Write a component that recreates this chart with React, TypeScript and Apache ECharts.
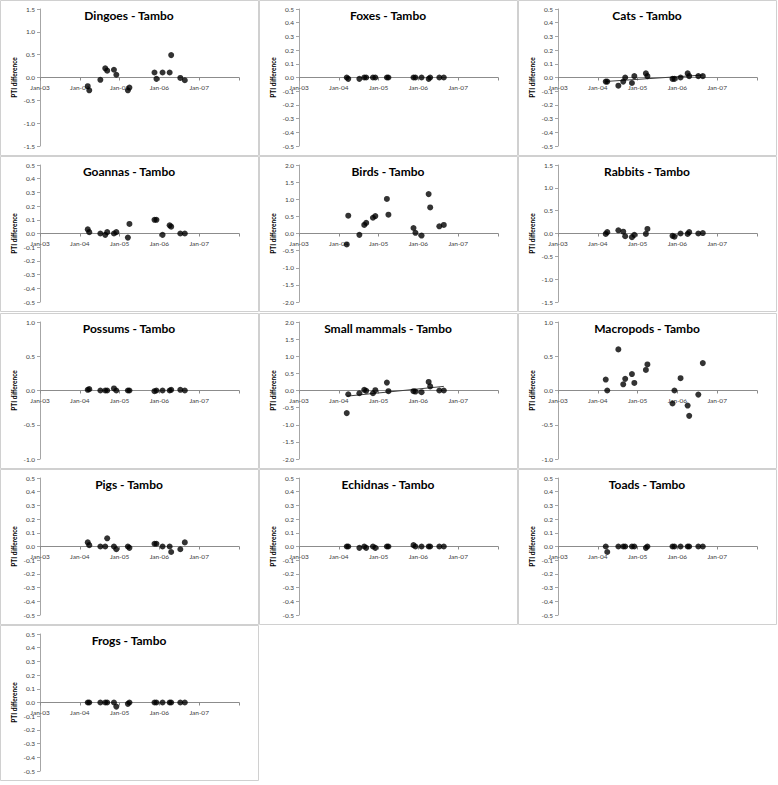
import { useEffect, useRef } from "react";
import * as echarts from "echarts";

// survey dates shared by every panel
const SURVEY_DATES = [
  "2004-03-14", "2004-03-28", "2004-07-08", "2004-08-22", "2004-09-09", "2004-11-10",
  "2004-12-02", "2005-03-18", "2005-04-01", "2005-11-17", "2005-12-05", "2006-01-30",
  "2006-04-05", "2006-04-19", "2006-07-12", "2006-08-22",
];

const DINGOES = [-0.19, -0.28, -0.05, 0.2, 0.15, 0.17, 0.06, -0.28, -0.22, 0.11, -0.03, 0.11, 0.11, 0.49, -0.01, -0.06];
const FOXES = [0.0, -0.01, -0.01, 0.0, 0.0, 0.0, 0.0, 0.0, 0.0, 0.0, 0.0, 0.0, -0.01, 0.0, 0.0, 0.0];
const CATS = [-0.03, -0.03, -0.06, -0.03, 0.0, -0.04, 0.01, 0.03, 0.01, -0.01, -0.01, 0.0, 0.03, 0.01, 0.01, 0.01];
const GOANNAS = [0.03, 0.01, 0.0, -0.01, 0.01, 0.0, 0.01, -0.03, 0.07, 0.1, 0.1, -0.01, 0.06, 0.05, 0.0, 0.0];
const BIRDS = [-0.32, 0.52, -0.04, 0.25, 0.31, 0.46, 0.51, 1.01, 0.55, 0.16, 0.02, -0.06, 1.15, 0.76, 0.21, 0.25];
const RABBITS = [-0.01, 0.03, 0.07, 0.04, -0.06, -0.08, -0.03, -0.01, 0.1, -0.05, -0.07, 0.0, -0.01, 0.03, 0.0, 0.01];
const POSSUMS = [0.01, 0.02, 0.0, 0.0, 0.0, 0.03, 0.0, 0.0, 0.0, -0.01, 0.0, 0.0, 0.0, 0.01, 0.01, 0.0];
const SMALL_MAMMALS = [-0.66, -0.11, -0.08, 0.02, -0.01, -0.08, 0.01, 0.23, -0.02, -0.02, -0.03, -0.05, 0.25, 0.12, 0.0, 0.0];
const MACROPODS = [0.16, 0.0, 0.6, 0.09, 0.17, 0.24, 0.11, 0.3, 0.38, -0.19, 0.0, 0.18, -0.22, -0.37, -0.06, 0.4];
const PIGS = [0.03, 0.01, 0.0, 0.0, 0.06, 0.0, -0.02, 0.0, -0.01, 0.02, 0.02, 0.0, 0.0, -0.04, -0.02, 0.03];
const ECHIDNAS = [0.0, 0.0, -0.01, 0.0, -0.01, 0.0, -0.01, 0.0, 0.0, 0.01, 0.0, 0.0, 0.0, 0.0, 0.0, 0.0];
const TOADS = [0.0, -0.04, 0.0, 0.0, 0.0, 0.0, 0.0, -0.01, 0.0, 0.0, 0.0, 0.0, 0.0, 0.0, 0.0, 0.0];
const FROGS = [0.0, 0.0, 0.0, 0.0, 0.0, 0.0, -0.03, -0.01, 0.0, 0.0, 0.0, 0.0, 0.0, 0.0, 0.0, 0.0];

const SPECIES = ["Dingoes", "Foxes", "Cats", "Goannas", "Birds", "Rabbits", "Possums", "Small mammals", "Macropods", "Pigs", "Echidnas", "Toads", "Frogs"];
const VALUES = [DINGOES, FOXES, CATS, GOANNAS, BIRDS, RABBITS, POSSUMS, SMALL_MAMMALS, MACROPODS, PIGS, ECHIDNAS, TOADS, FROGS];
const Y_LIMITS = [1.5, 0.5, 0.5, 0.5, 2.0, 1.5, 1.0, 2.0, 1.0, 0.5, 0.5, 0.5, 0.5];
const Y_STEPS = [0.5, 0.1, 0.1, 0.1, 0.5, 0.5, 0.5, 0.5, 0.5, 0.1, 0.1, 0.1, 0.1];
const WITH_TREND = ["Cats", "Small mammals"];
const X_YEARS = [2003, 2004, 2005, 2006, 2007];

const COL_X = [0, 259, 518];
const ROW_Y = [0, 156, 313, 469, 625];
const PANEL_W = 258;
const PANEL_H = 155;
const PLOT_H = 137;
const FONT = "Lato, 'Open Sans', sans-serif";

function toYear(d: string) {
  const [y, m, day] = d.split("-").map(Number);
  const start = Date.UTC(y, 0, 1);
  const end = Date.UTC(y + 1, 0, 1);
  return y + (Date.UTC(y, m - 1, day) - start) / (end - start);
}

function trend(xs: number[], ys: number[]) {
  const n = xs.length;
  const mx = xs.reduce((a, b) => a + b, 0) / n;
  const my = ys.reduce((a, b) => a + b, 0) / n;
  let sxy = 0;
  let sxx = 0;
  xs.forEach((x, i) => {
    sxy += (x - mx) * (ys[i] - my);
    sxx += (x - mx) * (x - mx);
  });
  const slope = sxy / sxx;
  const x0 = Math.min(...xs);
  const x1 = Math.max(...xs);
  return [
    [x0, my + slope * (x0 - mx)],
    [x1, my + slope * (x1 - mx)],
  ];
}

export default function App() {
  const chartRef = useRef<HTMLDivElement>(null);

  useEffect(() => {
    if (!chartRef.current) return;
    const chart = echarts.init(chartRef.current, null, { renderer: "svg" });
    const xs = SURVEY_DATES.map(toYear);

    const grids: any[] = [];
    const xAxes: any[] = [];
    const yAxes: any[] = [];
    const series: any[] = [];
    const titles: any[] = [];
    const borders: any[] = [];

    SPECIES.forEach((name, i) => {
      const px = COL_X[i % 3];
      const py = ROW_Y[Math.floor(i / 3)];
      borders.push({
        type: "rect",
        shape: { x: px + 0.5, y: py + 0.5, width: PANEL_W, height: PANEL_H },
        style: { fill: "#fff", stroke: "#d0d0d0", lineWidth: 1 },
        z: -10,
      });
      titles.push({
        text: `${name} - Tambo`,
        left: px + 129,
        top: py + 9,
        padding: 0,
        textAlign: "center",
        textStyle: { fontFamily: FONT, fontSize: 12, fontWeight: "bold", color: "#000" },
      });
      grids.push({ left: px + 40, top: py + 9, width: 199, height: PLOT_H });
      // axis sits at y = 0, which is the middle of every symmetric range
      xAxes.push({
        type: "value",
        gridIndex: i,
        min: 2003,
        max: 2008,
        interval: 1,
        position: "bottom",
        offset: -PLOT_H / 2,
        axisLine: { onZero: false, lineStyle: { color: "#8c8c8c", width: 1 } },
        axisTick: { show: true, length: 3, lineStyle: { color: "#8c8c8c" } },
        axisLabel: {
          fontFamily: FONT,
          fontSize: 6.5,
          color: "#404040",
          margin: 6,
          formatter: (v: number) => (X_YEARS.includes(v) ? "Jan-" + String(v).slice(2) : ""),
        },
        splitLine: { show: false },
      });
      yAxes.push({
        type: "value",
        gridIndex: i,
        min: -Y_LIMITS[i],
        max: Y_LIMITS[i],
        interval: Y_STEPS[i],
        name: "PTI difference",
        nameLocation: "middle",
        nameRotate: 90,
        nameGap: 22,
        nameTextStyle: { fontFamily: FONT, fontSize: 6.5, fontWeight: "bold", color: "#000" },
        axisLine: { show: true, lineStyle: { color: "#a6a6a6", width: 1 } },
        axisTick: { show: true, length: 3, lineStyle: { color: "#a6a6a6" } },
        axisLabel: {
          fontFamily: FONT,
          fontSize: 6.5,
          color: "#404040",
          margin: 5,
          formatter: (v: number) => v.toFixed(1),
        },
        splitLine: { show: false },
      });
      const vals = VALUES[i];
      series.push({
        type: "scatter",
        xAxisIndex: i,
        yAxisIndex: i,
        symbol: "circle",
        symbolSize: 6,
        itemStyle: { color: "#000" },
        data: xs.map((x, j) => [x, vals[j]]),
        z: 3,
      });
      if (WITH_TREND.includes(name)) {
        series.push({
          type: "line",
          xAxisIndex: i,
          yAxisIndex: i,
          symbol: "none",
          lineStyle: { color: "#404040", width: 1 },
          data: trend(xs, vals),
          z: 2,
        });
      }
    });

    chart.setOption({
      animation: false,
      backgroundColor: "#fff",
      title: titles,
      grid: grids,
      xAxis: xAxes,
      yAxis: yAxes,
      series,
      graphic: borders,
    });

    return () => chart.dispose();
  }, []);

  return (
    <div
      ref={chartRef}
      style={{ position: "absolute", left: 0, top: 0, width: 778, height: 785 }}
    />
  );
}
